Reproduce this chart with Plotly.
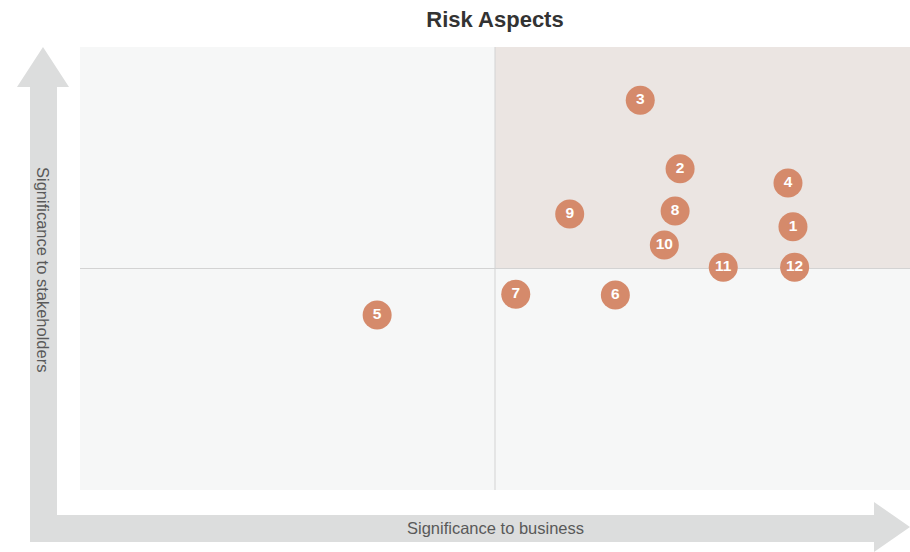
import plotly.graph_objects as go

# Data
labels = ["1", "2", "3", "4", "5", "6", "7", "8", "9", "10", "11", "12"]
business = [8.59, 7.23, 6.75, 8.53, 3.58, 6.45, 5.25, 7.17, 5.90, 7.04, 7.75, 8.61]
stakeholders = [5.94, 7.25, 8.80, 6.93, 3.95, 4.40, 4.42, 6.30, 6.23, 5.53, 5.03, 5.03]

W, H = 910, 552
ML, MR, MT, MB = 80, 0, 47, 62
PW, PH = W - ML - MR, H - MT - MB

def px(x):
    return (x - ML) / PW

def py(y):
    return (H - MB - y) / PH

FONT = "Liberation Sans, Arial, sans-serif"

fig = go.Figure()

fig.add_trace(go.Scatter(
    x=business, y=stakeholders, mode="markers+text",
    text=labels, textposition="middle center",
    textfont=dict(color="white", size=15.5, family=FONT, weight="bold"),
    marker=dict(size=29, color="#d58a6b", line=dict(width=0)),
    hoverinfo="text", showlegend=False, cliponaxis=False,
))

shapes = []
# Quadrants
quad_fill = [
    (0, 5, 0, 5, "#f6f7f7"),
    (5, 10, 0, 5, "#f6f7f7"),
    (0, 5, 5, 10, "#f6f7f7"),
    (5, 10, 5, 10, "#ebe5e2"),
]
for x0, x1, y0, y1, c in quad_fill:
    shapes.append(dict(type="rect", xref="x", yref="y", x0=x0, x1=x1, y0=y0, y1=y1,
                       fillcolor=c, line=dict(width=0), layer="below"))
shapes.append(dict(type="line", xref="x", yref="y", x0=5, x1=5, y0=0, y1=10,
                   line=dict(color="#d3d3d3", width=1), layer="below"))
shapes.append(dict(type="line", xref="x", yref="y", x0=0, x1=10, y0=5, y1=5,
                   line=dict(color="#d3d3d3", width=1), layer="below"))

# L-shaped arrows
pts = [(30, 542), (30, 87), (17, 87), (43, 47), (69, 87), (57, 87), (57, 515),
       (874, 515), (874, 502), (910, 527), (874, 552), (874, 542)]
path = "M " + " L ".join(f"{px(a):.5f},{py(b):.5f}" for a, b in pts) + " Z"
shapes.append(dict(type="path", xref="paper", yref="paper", path=path,
                   fillcolor="#dcdddd", line=dict(width=0), layer="below"))

fig.update_layout(
    width=W, height=H,
    margin=dict(l=ML, r=MR, t=MT, b=MB),
    paper_bgcolor="white", plot_bgcolor="white",
    shapes=shapes,
    xaxis=dict(range=[0, 10], visible=False, fixedrange=True),
    yaxis=dict(range=[0, 10], visible=False, fixedrange=True),
    title=dict(text="<b>Risk Aspects</b>", xref="container", x=495 / W, xanchor="center",
               yref="container", y=1 - 19 / H, yanchor="middle",
               font=dict(size=22, color="#333333", family=FONT)),
    annotations=[
        dict(text="Significance to stakeholders", xref="paper", yref="paper",
             x=px(43), y=py(269), showarrow=False, textangle=90,
             xanchor="center", yanchor="middle",
             font=dict(size=16.5, color="#595959", family=FONT)),
        dict(text="Significance to business", xref="paper", yref="paper",
             x=px(495), y=py(528), showarrow=False,
             xanchor="center", yanchor="middle",
             font=dict(size=16.5, color="#595959", family=FONT)),
    ],
)

fig.write_html(
    "out.html",
    config={"displayModeBar": False},
    post_script="document.body.style.margin='0';document.body.style.overflow='hidden';",
)
